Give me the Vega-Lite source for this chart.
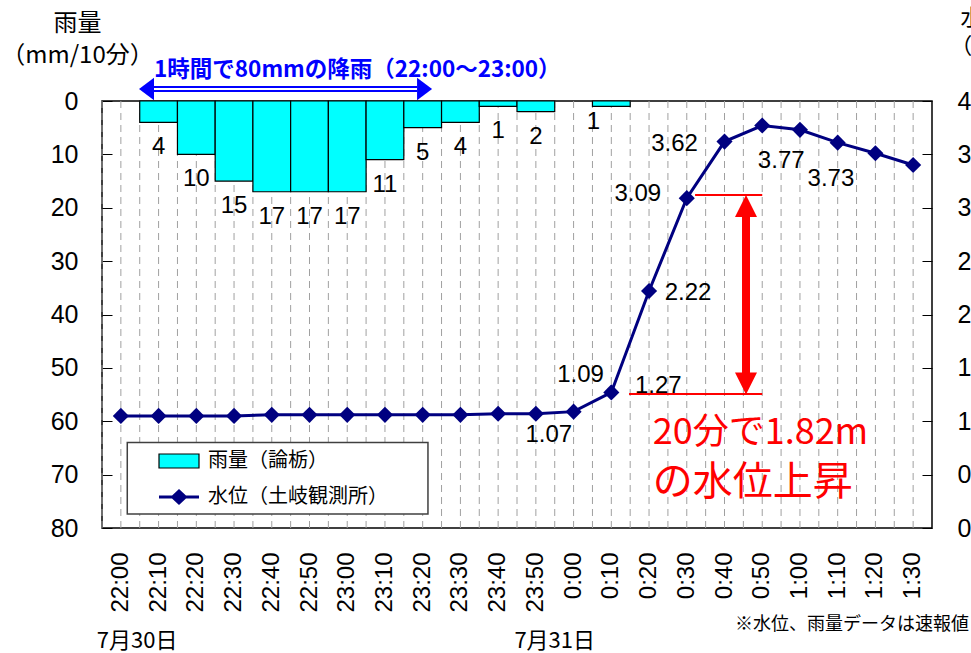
{
  "$schema": "https://vega.github.io/schema/vega-lite/v6.json",
  "width": 830,
  "height": 427,
  "autosize": {"type": "none"},
  "padding": {"left": 102, "top": 101, "right": 39, "bottom": 125},
  "background": "white",
  "config": {
    "view": {"stroke": "#000000", "strokeWidth": 1.5},
    "font": "Liberation Sans"
  },
  "data": {"values": [
    {"t": "22:00", "rain": 0, "level": 1.05},
    {"t": "22:10", "rain": 4, "level": 1.05},
    {"t": "22:20", "rain": 10, "level": 1.05},
    {"t": "22:30", "rain": 15, "level": 1.05},
    {"t": "22:40", "rain": 17, "level": 1.06},
    {"t": "22:50", "rain": 17, "level": 1.06},
    {"t": "23:00", "rain": 17, "level": 1.06},
    {"t": "23:10", "rain": 11, "level": 1.06},
    {"t": "23:20", "rain": 5, "level": 1.06},
    {"t": "23:30", "rain": 4, "level": 1.06},
    {"t": "23:40", "rain": 1, "level": 1.07},
    {"t": "23:50", "rain": 2, "level": 1.07},
    {"t": "0:00", "rain": 0, "level": 1.09},
    {"t": "0:10", "rain": 1, "level": 1.27},
    {"t": "0:20", "rain": 0, "level": 2.22},
    {"t": "0:30", "rain": 0, "level": 3.09},
    {"t": "0:40", "rain": 0, "level": 3.62},
    {"t": "0:50", "rain": 0, "level": 3.77},
    {"t": "1:00", "rain": 0, "level": 3.73},
    {"t": "1:10", "rain": 0, "level": 3.61},
    {"t": "1:20", "rain": 0, "level": 3.51},
    {"t": "1:30", "rain": 0, "level": 3.40}
  ]},
  "resolve": {"scale": {"y": "independent"}},
  "layer": [
    {
      "layer": [
        {
          "mark": {"type": "rule", "color": "#A0A0A0", "strokeWidth": 1, "strokeDash": [7, 5]},
          "encoding": {
            "x": {"field": "t", "type": "nominal", "bandPosition": 0,
              "scale": {"type": "band", "domain": ["22:00","22:10","22:20","22:30","22:40","22:50","23:00","23:10","23:20","23:30","23:40","23:50","0:00","0:10","0:20","0:30","0:40","0:50","1:00","1:10","1:20","1:30"], "paddingInner": 0, "paddingOuter": 0},
              "axis": {"title": null, "labelAngle": 270, "labelAlign": "right", "labelBaseline": "middle", "labelFontSize": 24, "labelFont": "Liberation Sans", "labelColor": "#000000", "labelPadding": 24, "ticks": false, "domain": false, "grid": false, "bandPosition": 0.5}
            }
          }
        },
        {
          "mark": {"type": "rule", "color": "#A0A0A0", "strokeWidth": 1, "strokeDash": [7, 5]},
          "encoding": {
            "x": {"field": "t", "type": "nominal", "bandPosition": 0.5}
          }
        },
        {
          "data": {"values": [{}]},
          "mark": {"type": "rect", "fill": "#FFFFFF", "stroke": "#404040", "strokeWidth": 1.5},
          "encoding": {
            "x": {"datum": "22:00", "bandPosition": 0.67},
            "x2": {"datum": "23:20", "bandPosition": 0.64},
            "y": {"datum": 64.0},
            "y2": {"datum": 77.4}
          }
        },
        {
          "transform": [{"filter": "datum.rain > 0"}],
          "mark": {"type": "bar", "stroke": "#000000", "strokeWidth": 1.2, "fillOpacity": 1},
          "encoding": {
            "x": {"field": "t", "type": "nominal"},
            "y": {"field": "rain", "type": "quantitative",
              "scale": {"domain": [0, 80], "reverse": true, "nice": false, "zero": true},
              "axis": {"orient": "left", "values": [0, 10, 20, 30, 40, 50, 60, 70, 80], "labelFontSize": 25, "labelFont": "Liberation Sans", "labelColor": "#000000", "tickSize": -10, "tickColor": "#000000", "tickWidth": 1, "labelPadding": 34, "domain": false, "grid": false,
                "title": ["雨量", "（mm/10分）"], "titleAngle": 0, "titleAlign": "center", "titleBaseline": "top", "titleX": -25, "titleY": -90, "titleFont": "Noto Sans CJK JP", "titleFontSize": 24, "titleFontWeight": "normal", "titleColor": "#000000", "titleLineHeight": 32}
            },
            "fill": {"datum": "雨量（論栃）",
              "scale": {"domain": ["雨量（論栃）"], "range": ["#00FFFF"]},
              "legend": {
                "title": null,
                "orient": "none", "legendX": 33, "legendY": 350,
                "padding": 0,
                "symbolType": "M-5,-1.75H5V1.75H-5Z",
                "symbolSize": 64, "symbolOffset": 34, "labelOffset": 19,
                "symbolStrokeColor": "#000000", "symbolStrokeWidth": 1.2, "symbolOpacity": 1,
                "labelFont": "Noto Sans CJK JP", "labelFontSize": 20, "labelColor": "#000000", "labelLimit": 400
              }
            }
          }
        },
        {
          "transform": [{"filter": "datum.rain > 0 && datum.t !== '0:10'"}],
          "mark": {"type": "text", "baseline": "top", "align": "center", "dy": 13, "fontSize": 24, "font": "Liberation Sans", "color": "#000000"},
          "encoding": {
            "x": {"field": "t", "type": "nominal"},
            "y": {"field": "rain", "type": "quantitative"},
            "text": {"field": "rain", "type": "quantitative"}
          }
        },
        {
          "transform": [{"filter": "datum.t === '0:10'"}],
          "mark": {"type": "text", "baseline": "top", "align": "center", "dy": 4, "dx": -18, "fontSize": 24, "font": "Liberation Sans", "color": "#000000"},
          "encoding": {
            "x": {"field": "t", "type": "nominal"},
            "y": {"field": "rain", "type": "quantitative"},
            "text": {"field": "rain", "type": "quantitative"}
          }
        },
        {
          "data": {"values": [{}]},
          "mark": {"type": "rule", "color": "#0000FF", "strokeWidth": 6},
          "encoding": {
            "x": {"datum": "22:10", "bandPosition": 0.35},
            "x2": {"datum": "23:20", "bandPosition": 0.35},
            "y": {"datum": -2.25}
          }
        },
        {
          "data": {"values": [{}]},
          "mark": {"type": "rule", "color": "#FFFFFF", "strokeWidth": 2},
          "encoding": {
            "x": {"datum": "22:10", "bandPosition": 0.3},
            "x2": {"datum": "23:20", "bandPosition": 0.4},
            "y": {"datum": -2.25}
          }
        },
        {
          "data": {"values": [{}]},
          "mark": {"type": "point", "filled": true, "color": "#0000FF", "opacity": 1, "size": 225, "shape": "M-1,0L1,-1.5L1,1.5Z"},
          "encoding": {
            "x": {"datum": "22:10", "bandPosition": 0.18},
            "y": {"datum": -2.25}
          }
        },
        {
          "data": {"values": [{}]},
          "mark": {"type": "point", "filled": true, "color": "#0000FF", "opacity": 1, "size": 225, "shape": "M1,0L-1,-1.5L-1,1.5Z"},
          "encoding": {
            "x": {"datum": "23:20", "bandPosition": 0.55},
            "y": {"datum": -2.25}
          }
        },
        {
          "data": {"values": [{}]},
          "mark": {"type": "text", "text": "1時間で80mmの降雨（22:00～23:00）", "align": "left", "baseline": "middle", "font": "Noto Sans CJK JP", "fontWeight": "bold", "fontSize": 22.5, "color": "#0000FF"},
          "encoding": {
            "x": {"datum": "22:10", "bandPosition": 0.38},
            "y": {"datum": -5.8}
          }
        },
        {
          "data": {"values": [{}]},
          "mark": {"type": "text", "text": "7月30日", "align": "center", "baseline": "middle", "font": "Noto Sans CJK JP", "fontSize": 22, "color": "#000000"},
          "encoding": {
            "x": {"datum": "22:00", "bandPosition": 0.93},
            "y": {"datum": 101.2}
          }
        },
        {
          "data": {"values": [{}]},
          "mark": {"type": "text", "text": "7月31日", "align": "center", "baseline": "middle", "font": "Noto Sans CJK JP", "fontSize": 22, "color": "#000000"},
          "encoding": {
            "x": {"datum": "0:00", "bandPosition": 0},
            "y": {"datum": 101.2}
          }
        },
        {
          "data": {"values": [{}]},
          "mark": {"type": "text", "text": "※水位、雨量データは速報値", "align": "left", "baseline": "middle", "font": "Noto Sans CJK JP", "fontSize": 18, "color": "#000000"},
          "encoding": {
            "x": {"datum": "0:40", "bandPosition": 0.78},
            "y": {"datum": 98.2}
          }
        }
      ]
    },
    {
      "layer": [
        {
          "mark": {"type": "line", "strokeWidth": 3},
          "encoding": {
            "x": {"field": "t", "type": "nominal"},
            "y": {"field": "level", "type": "quantitative",
              "scale": {"domain": [0, 4], "nice": false, "zero": true},
              "axis": {"orient": "right", "values": [0, 0.5, 1, 1.5, 2, 2.5, 3, 3.5, 4], "format": ".1f", "labelFontSize": 25, "labelFont": "Liberation Sans", "labelColor": "#000000", "tickSize": -10, "tickColor": "#000000", "tickWidth": 1, "labelPadding": 35, "domain": false, "grid": false,
                "title": ["水位", "（m）"], "titleAngle": 0, "titleAlign": "center", "titleBaseline": "top", "titleX": 50, "titleY": -94, "titleFont": "Noto Sans CJK JP", "titleFontSize": 22, "titleFontWeight": "normal", "titleColor": "#000000", "titleLineHeight": 28}
            },
            "stroke": {"datum": "水位（土岐観測所）",
              "scale": {"domain": ["水位（土岐観測所）"], "range": ["#000080"]},
              "legend": {
                "title": null,
                "orient": "none", "legendX": 33, "legendY": 386,
                "padding": 0,
                "symbolType": "M-5,0H5M-1.6,0L0,-1.5L1.6,0L0,1.5Z",
                "symbolSize": 64, "symbolOffset": 34, "labelOffset": 19,
                "symbolFillColor": "#000080", "symbolStrokeWidth": 3, "symbolOpacity": 1,
                "labelFont": "Noto Sans CJK JP", "labelFontSize": 20, "labelColor": "#000000", "labelLimit": 400
              }
            }
          }
        },
        {
          "mark": {"type": "point", "filled": true, "shape": "diamond", "size": 260, "opacity": 1, "color": "#000080"},
          "encoding": {
            "x": {"field": "t", "type": "nominal"},
            "y": {"field": "level", "type": "quantitative"}
          }
        },
        {
          "transform": [{"filter": "datum.t === '23:50'"}],
          "mark": {"type": "text", "align": "center", "baseline": "middle", "dx": 13, "dy": 21, "fontSize": 24, "font": "Liberation Sans", "color": "#000000"},
          "encoding": {"x": {"field": "t", "type": "nominal"}, "y": {"field": "level", "type": "quantitative"}, "text": {"field": "level", "type": "quantitative", "format": ".2f"}}
        },
        {
          "transform": [{"filter": "datum.t === '0:00'"}],
          "mark": {"type": "text", "align": "center", "baseline": "middle", "dx": 7, "dy": -37, "fontSize": 24, "font": "Liberation Sans", "color": "#000000"},
          "encoding": {"x": {"field": "t", "type": "nominal"}, "y": {"field": "level", "type": "quantitative"}, "text": {"field": "level", "type": "quantitative", "format": ".2f"}}
        },
        {
          "transform": [{"filter": "datum.t === '0:10'"}],
          "mark": {"type": "text", "align": "center", "baseline": "middle", "dx": 47, "dy": -6, "fontSize": 24, "font": "Liberation Sans", "color": "#000000"},
          "encoding": {"x": {"field": "t", "type": "nominal"}, "y": {"field": "level", "type": "quantitative"}, "text": {"field": "level", "type": "quantitative", "format": ".2f"}}
        },
        {
          "transform": [{"filter": "datum.t === '0:20'"}],
          "mark": {"type": "text", "align": "center", "baseline": "middle", "dx": 39, "dy": 2, "fontSize": 24, "font": "Liberation Sans", "color": "#000000"},
          "encoding": {"x": {"field": "t", "type": "nominal"}, "y": {"field": "level", "type": "quantitative"}, "text": {"field": "level", "type": "quantitative", "format": ".2f"}}
        },
        {
          "transform": [{"filter": "datum.t === '0:30'"}],
          "mark": {"type": "text", "align": "center", "baseline": "middle", "dx": -49, "dy": -4, "fontSize": 24, "font": "Liberation Sans", "color": "#000000"},
          "encoding": {"x": {"field": "t", "type": "nominal"}, "y": {"field": "level", "type": "quantitative"}, "text": {"field": "level", "type": "quantitative", "format": ".2f"}}
        },
        {
          "transform": [{"filter": "datum.t === '0:40'"}],
          "mark": {"type": "text", "align": "center", "baseline": "middle", "dx": -50, "dy": 2, "fontSize": 24, "font": "Liberation Sans", "color": "#000000"},
          "encoding": {"x": {"field": "t", "type": "nominal"}, "y": {"field": "level", "type": "quantitative"}, "text": {"field": "level", "type": "quantitative", "format": ".2f"}}
        },
        {
          "transform": [{"filter": "datum.t === '0:50'"}],
          "mark": {"type": "text", "align": "center", "baseline": "middle", "dx": 19, "dy": 35, "fontSize": 24, "font": "Liberation Sans", "color": "#000000"},
          "encoding": {"x": {"field": "t", "type": "nominal"}, "y": {"field": "level", "type": "quantitative"}, "text": {"field": "level", "type": "quantitative", "format": ".2f"}}
        },
        {
          "transform": [{"filter": "datum.t === '1:00'"}],
          "mark": {"type": "text", "align": "center", "baseline": "middle", "dx": 31, "dy": 49, "fontSize": 24, "font": "Liberation Sans", "color": "#000000"},
          "encoding": {"x": {"field": "t", "type": "nominal"}, "y": {"field": "level", "type": "quantitative"}, "text": {"field": "level", "type": "quantitative", "format": ".2f"}}
        },
        {
          "data": {"values": [{}]},
          "mark": {"type": "rule", "color": "#FF0000", "strokeWidth": 2},
          "encoding": {
            "x": {"datum": "0:30", "bandPosition": 0.72},
            "x2": {"datum": "0:50", "bandPosition": 0.5},
            "y": {"datum": 3.12}
          }
        },
        {
          "data": {"values": [{}]},
          "mark": {"type": "rule", "color": "#FF0000", "strokeWidth": 2},
          "encoding": {
            "x": {"datum": "0:10", "bandPosition": 0.97},
            "x2": {"datum": "0:50", "bandPosition": 0.5},
            "y": {"datum": 1.255}
          }
        },
        {
          "data": {"values": [{}]},
          "mark": {"type": "rule", "color": "#FF0000", "strokeWidth": 8},
          "encoding": {
            "x": {"datum": "0:50", "bandPosition": 0.07},
            "y": {"datum": 2.98},
            "y2": {"datum": 1.386}
          }
        },
        {
          "data": {"values": [{}]},
          "mark": {"type": "point", "filled": true, "color": "#FF0000", "opacity": 1, "size": 484, "shape": "M0,-1L1,1L-1,1Z"},
          "encoding": {
            "x": {"datum": "0:50", "bandPosition": 0.07},
            "y": {"datum": 3.016}
          }
        },
        {
          "data": {"values": [{}]},
          "mark": {"type": "point", "filled": true, "color": "#FF0000", "opacity": 1, "size": 484, "shape": "M0,1L1,-1L-1,-1Z"},
          "encoding": {
            "x": {"datum": "0:50", "bandPosition": 0.07},
            "y": {"datum": 1.354}
          }
        },
        {
          "data": {"values": [{}]},
          "mark": {"type": "text", "text": "20分で1.82m", "align": "left", "baseline": "middle", "font": "Noto Sans CJK JP", "fontSize": 36, "color": "#FF0000"},
          "encoding": {
            "x": {"datum": "0:20", "bandPosition": 0.6},
            "y": {"datum": 0.89}
          }
        },
        {
          "data": {"values": [{}]},
          "mark": {"type": "text", "text": "の水位上昇", "align": "left", "baseline": "middle", "font": "Noto Sans CJK JP", "fontSize": 40, "color": "#FF0000"},
          "encoding": {
            "x": {"datum": "0:20", "bandPosition": 0.6},
            "y": {"datum": 0.42}
          }
        }
      ]
    }
  ]
}
